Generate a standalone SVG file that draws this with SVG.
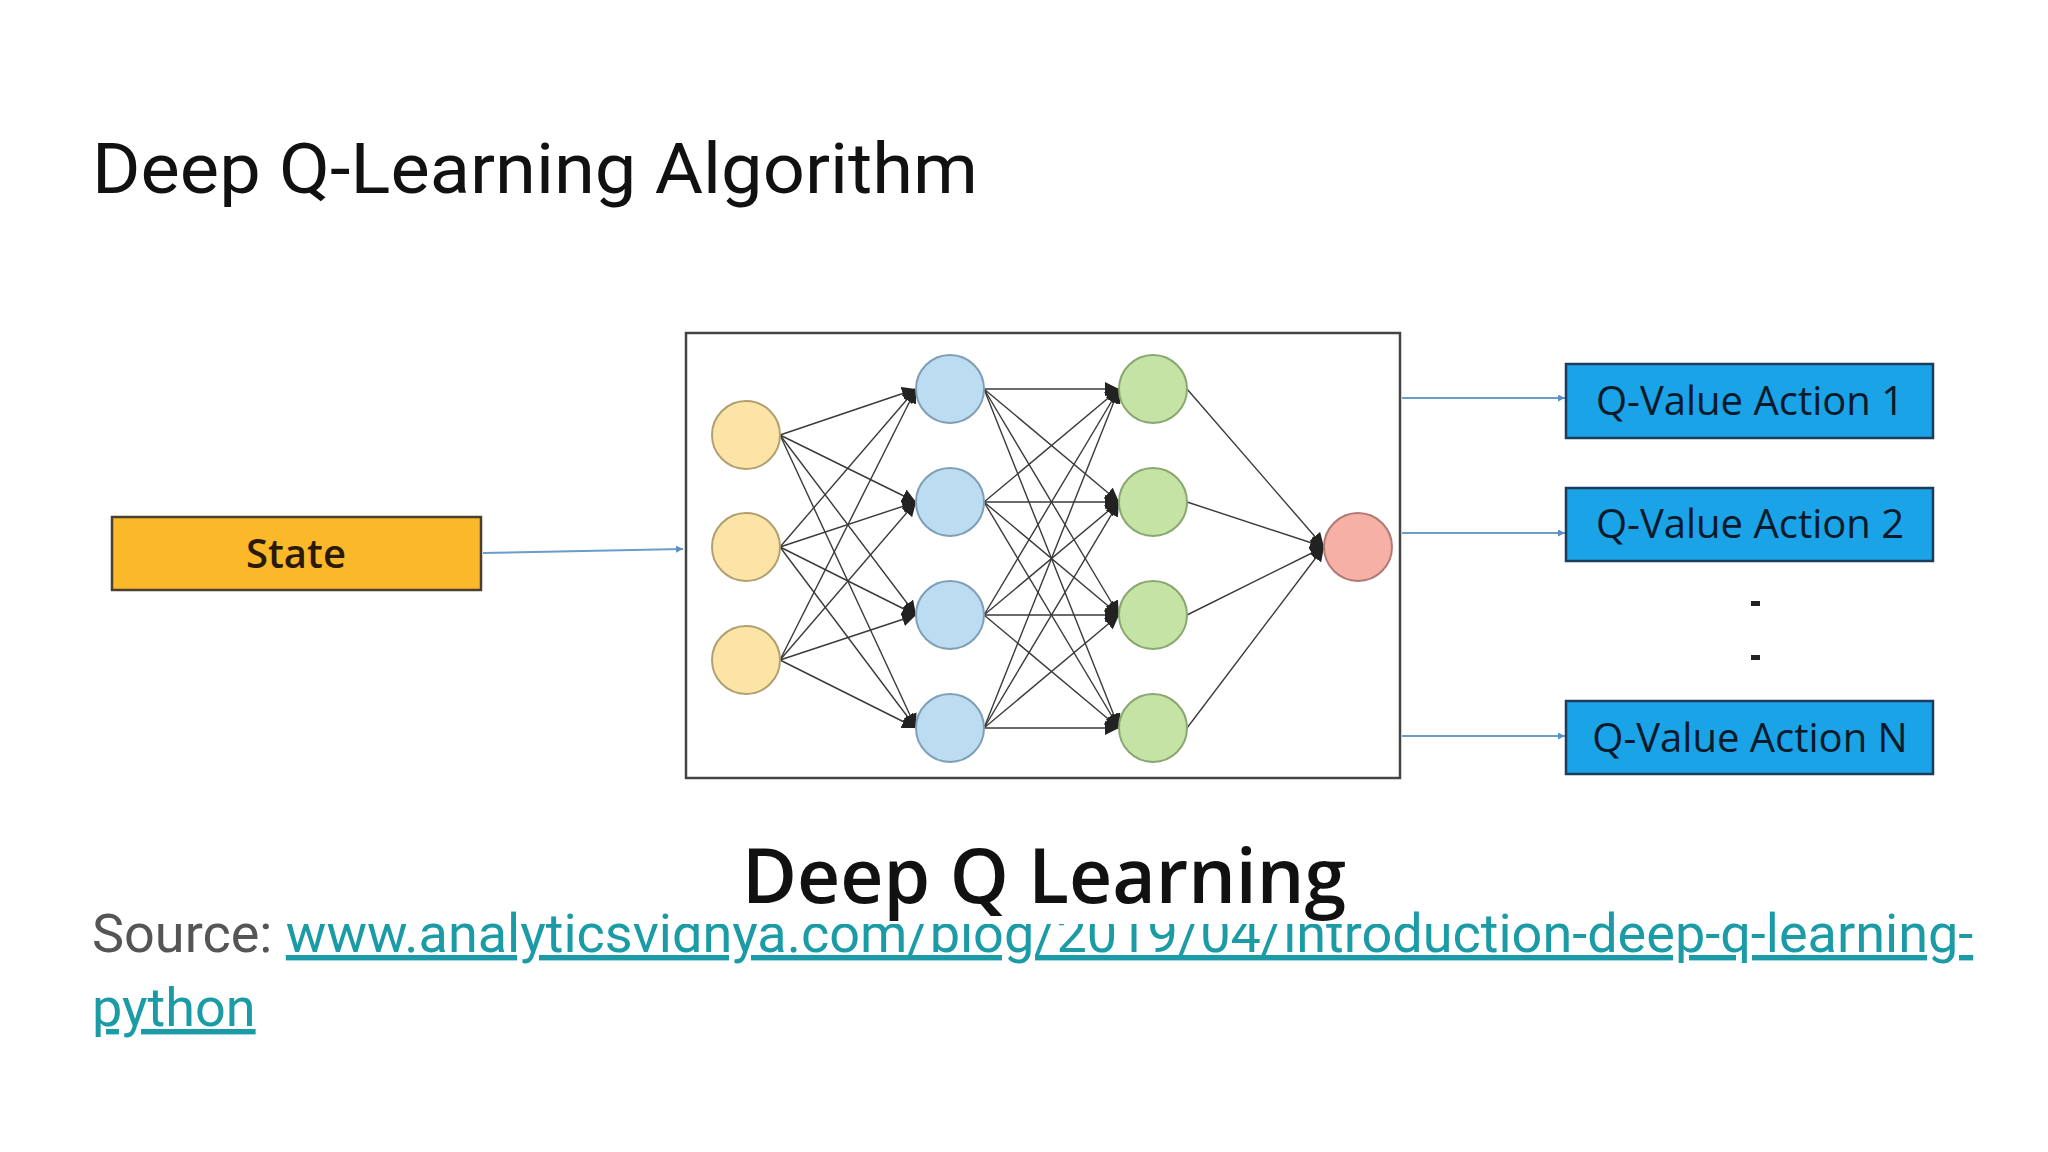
<svg xmlns="http://www.w3.org/2000/svg" width="2048" height="1152" viewBox="0 0 2048 1152">
<style>
.t{font-family:Roboto,"Liberation Sans",sans-serif}
.c{font-family:"Open Sans","Liberation Sans",sans-serif}
.nn line{stroke:#3a3a3a;stroke-width:1.4}
.y{fill:#fce4a6;stroke:#b0a070;stroke-width:2}
.b{fill:#bcdcf2;stroke:#7f9fb5;stroke-width:2}
.g{fill:#c5e3a5;stroke:#88a870;stroke-width:2}
.r{fill:#f7b0a6;stroke:#b07a74;stroke-width:2}
.q{fill:#1aa3e6;stroke:#1d3b5a;stroke-width:2.5}
.ql{font-family:"Open Sans","Liberation Sans",sans-serif;font-size:40px;fill:#0a1a2a;text-anchor:middle}
.arr{stroke:#6a9ccc;stroke-width:2;fill:none}
</style>
<defs>
<marker id="ah" viewBox="0 0 10 10" refX="10" refY="5" markerWidth="7" markerHeight="7" markerUnits="userSpaceOnUse" orient="auto"><path d="M0,0L10,5L0,10z" fill="#5b8fc4"/></marker>
<marker id="bh" viewBox="0 0 10 10" refX="10" refY="5" markerWidth="14" markerHeight="14" markerUnits="userSpaceOnUse" orient="auto"><path d="M0,0L10,5L0,10z" fill="#222"/></marker>
</defs>
<rect width="2048" height="1152" fill="#fff"/>
<text class="t" x="92" y="193" font-size="70" fill="#111" textLength="886" lengthAdjust="spacingAndGlyphs">Deep Q-Learning Algorithm</text>
<text class="t" x="92" y="952" font-size="54"><tspan fill="#555">Source: </tspan><tspan fill="#1a9ba6" text-decoration="underline">www.analyticsvidhya.com/blog/2019/04/introduction-deep-q-learning-</tspan></text>
<text class="t" x="92" y="1026" font-size="54" fill="#1a9ba6" text-decoration="underline">python</text>
<rect x="683" y="800" width="730" height="124" fill="#fff"/>
<text class="c" x="742" y="903" font-size="76" font-weight="600" fill="#111" textLength="604" lengthAdjust="spacingAndGlyphs">Deep Q Learning</text>
<g id="connectors">
<line class="arr" x1="483" y1="553" x2="683" y2="549" marker-end="url(#ah)"/>
<line class="arr" x1="1402" y1="398" x2="1565" y2="398" marker-end="url(#ah)"/>
<line class="arr" x1="1402" y1="533" x2="1565" y2="533" marker-end="url(#ah)"/>
<line class="arr" x1="1402" y1="736" x2="1565" y2="736" marker-end="url(#ah)"/>
</g>
<g id="network">
<rect x="686" y="333" width="714" height="445" fill="#fff" stroke="#444" stroke-width="2.5"/>
<g class="nn" marker-end="url(#bh)">
<line x1="780" y1="435" x2="916" y2="389"/><line x1="780" y1="435" x2="916" y2="502"/><line x1="780" y1="435" x2="916" y2="615"/><line x1="780" y1="435" x2="916" y2="728"/>
<line x1="780" y1="547" x2="916" y2="389"/><line x1="780" y1="547" x2="916" y2="502"/><line x1="780" y1="547" x2="916" y2="615"/><line x1="780" y1="547" x2="916" y2="728"/>
<line x1="780" y1="660" x2="916" y2="389"/><line x1="780" y1="660" x2="916" y2="502"/><line x1="780" y1="660" x2="916" y2="615"/><line x1="780" y1="660" x2="916" y2="728"/>
<line x1="984" y1="389" x2="1119" y2="389"/><line x1="984" y1="389" x2="1119" y2="502"/><line x1="984" y1="389" x2="1119" y2="615"/><line x1="984" y1="389" x2="1119" y2="728"/>
<line x1="984" y1="502" x2="1119" y2="389"/><line x1="984" y1="502" x2="1119" y2="502"/><line x1="984" y1="502" x2="1119" y2="615"/><line x1="984" y1="502" x2="1119" y2="728"/>
<line x1="984" y1="615" x2="1119" y2="389"/><line x1="984" y1="615" x2="1119" y2="502"/><line x1="984" y1="615" x2="1119" y2="615"/><line x1="984" y1="615" x2="1119" y2="728"/>
<line x1="984" y1="728" x2="1119" y2="389"/><line x1="984" y1="728" x2="1119" y2="502"/><line x1="984" y1="728" x2="1119" y2="615"/><line x1="984" y1="728" x2="1119" y2="728"/>
<line x1="1187" y1="389" x2="1324" y2="547"/><line x1="1187" y1="502" x2="1324" y2="547"/><line x1="1187" y1="615" x2="1324" y2="547"/><line x1="1187" y1="728" x2="1324" y2="547"/>
</g>
</g>
<g id="input"><ellipse class="y" cx="746" cy="435" rx="34" ry="34"/><ellipse class="y" cx="746" cy="547" rx="34" ry="34"/><ellipse class="y" cx="746" cy="660" rx="34" ry="34"/></g>
<g id="hidden1"><ellipse class="b" cx="950" cy="389" rx="34" ry="34"/><ellipse class="b" cx="950" cy="502" rx="34" ry="34"/><ellipse class="b" cx="950" cy="615" rx="34" ry="34"/><ellipse class="b" cx="950" cy="728" rx="34" ry="34"/></g>
<g id="hidden2"><ellipse class="g" cx="1153" cy="389" rx="34" ry="34"/><ellipse class="g" cx="1153" cy="502" rx="34" ry="34"/><ellipse class="g" cx="1153" cy="615" rx="34" ry="34"/><ellipse class="g" cx="1153" cy="728" rx="34" ry="34"/></g>
<g id="output"><ellipse class="r" cx="1358" cy="547" rx="34" ry="34"/></g>
<g id="state"><rect x="112" y="517" width="369" height="73" fill="#fbb829" stroke="#4a4030" stroke-width="2.5"/><text class="c" x="296" y="568" font-size="40" font-weight="600" fill="#2a1a0a" text-anchor="middle">State</text></g>
<g id="q1"><rect class="q" x="1566" y="364" width="367" height="74"/><text class="ql" x="1750" y="415">Q-Value Action 1</text></g>
<g id="q2"><rect class="q" x="1566" y="488" width="367" height="73"/><text class="ql" x="1750" y="538">Q-Value Action 2</text></g>
<g id="qn"><rect class="q" x="1566" y="701" width="367" height="73"/><text class="ql" x="1750" y="752">Q-Value Action N</text></g>
<rect x="1751" y="601" width="9" height="5" fill="#222"/>
<rect x="1751" y="655" width="9" height="5" fill="#222"/>
</svg>
